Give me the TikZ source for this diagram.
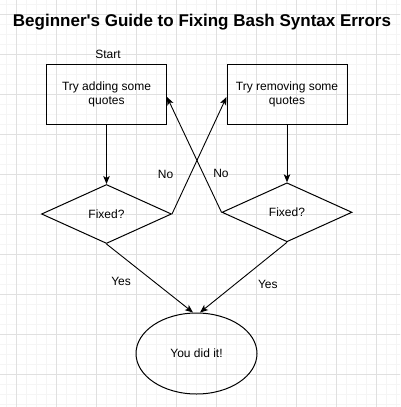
\documentclass[tikz,border=0pt]{standalone}
\usepackage{fontspec}
\setmainfont{Liberation Sans}
\newfontfamily\titlefont{Liberation Sans}
\usetikzlibrary{shapes.geometric,arrows.meta}

\begin{document}
\begin{tikzpicture}[x=1pt, y=-1pt, >={Stealth[length=8pt,width=6.5pt,inset=2pt]}, font=\fontsize{12}{14}\selectfont]
\tikzstyle{block} = [draw, rectangle, line width=1pt, minimum height=60pt, minimum width=120pt, align=center]
\tikzstyle{decision} = [draw, diamond, line width=1pt, minimum height=59pt, minimum width=130pt, inner sep=0pt]
\tikzstyle{finish} = [draw, ellipse, line width=1pt, minimum height=81pt, minimum width=121pt, inner sep=0pt]
\tikzstyle{flow} = [->, line width=0.9pt]
\tikzstyle{minorgrid} = [draw=black!4, line width=0.5pt]
\tikzstyle{majorgrid} = [draw=black!12, line width=0.7pt]

    % grid paper behind the chart
    \fill[white] (0,0) rectangle (400,407);
    \useasboundingbox (0,0) rectangle (400,407);
    \begin{scope}
    \clip (0,0) rectangle (400,407);
    \draw[minorgrid, step=10pt, xshift=6.7pt, yshift=-4pt] (-10,-10) grid (410,417);
    \draw[majorgrid, step=40pt, xshift=16.7pt, yshift=-14pt] (-40,-40) grid (440,447);
    \end{scope}

    % the blocks
    \node[anchor=base, font=\titlefont\fontsize{17}{20}\selectfont\bfseries] (title) at (202,26.7) {Beginner's Guide to Fixing Bash Syntax Errors};
    \node[block] (add) at (106.5,94) {Try adding some\\quotes};
    \node[above of=add, node distance=40pt, xshift=1.5pt] (start) {Start};
    \node[block, right of=add, node distance=180.5pt] (remove) {Try removing some\\quotes};
    \node[decision, below of=add, node distance=120pt] (fixA) {Fixed?};
    \node[decision, below of=remove, node distance=118.3pt] (fixB) {Fixed?};
    \node[finish] (done) at (196.5,353.5) {You did it!};

    % connectors
    \draw[flow] (add) -- (fixA);
    \draw[flow] (remove) -- (fixB);
    \draw[flow] (fixA.east) -- node[pos=0.34, xshift=-25pt] {No} ([yshift=-3pt]remove.west);
    \draw[flow] (fixB.west) -- node[pos=0.34, xshift=18pt] {No} ([yshift=-3pt]add.east);
    \draw[flow] (fixA.south) -- node[pos=0.55, xshift=-33pt] {Yes} ([xshift=-3.5pt]done.north);
    \draw[flow] (fixB.south) -- node[pos=0.6, xshift=33pt] {Yes} ([xshift=3.5pt]done.north);

\end{tikzpicture}
\end{document}
